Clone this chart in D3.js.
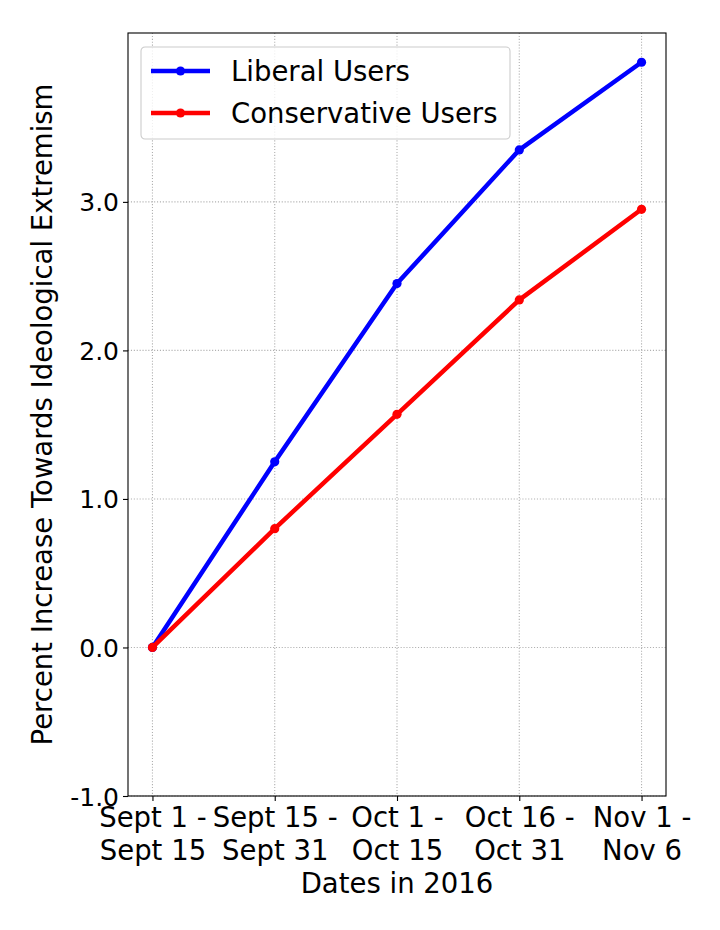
<!DOCTYPE html>
<html>
<head>
<meta charset="utf-8">
<script src="https://cdn.jsdelivr.net/npm/d3@7"></script>
<style>
  body { margin: 0; background: #fff; }
  svg text { font-family: "DejaVu Sans", sans-serif; }
</style>
</head>
<body>
<svg id="chart" width="720" height="930"></svg>
<script>
// data
const periods = [["Sept 1 -", "Sept 15"], ["Sept 15 -", "Sept 31"], ["Oct 1 -", "Oct 15"], ["Oct 16 -", "Oct 31"], ["Nov 1 -", "Nov 6"]];
const liberal = [0, 1.25, 2.45, 3.35, 3.94];
const conservative = [0, 0.80, 1.57, 2.34, 2.95];
const yTicks = [-1, 0, 1, 2, 3];
const seriesNames = ["Liberal Users", "Conservative Users"];
const seriesColors = ["#0000ff", "#ff0000"];

let margin = {top: 33, right: 54, bottom: 134, left: 128};
let svg = d3.select("#chart");
let width = +svg.attr("width") - margin.left - margin.right;
let height = +svg.attr("height") - margin.top - margin.bottom;
let g = svg.append("g").attr("transform", "translate(" + margin.left + "," + margin.top + ")");

let x = d3.scaleLinear().domain([-0.2, periods.length - 1 + 0.2]).range([0, width]);
let yMax = d3.max(liberal.concat(conservative));
let y = d3.scaleLinear().domain([-1, yMax + yMax * 0.05]).range([height, 0]);

// grid
let grid = g.append("g").attr("class", "grid");
grid.selectAll("line.gx").data(d3.range(periods.length)).enter().append("line")
    .attr("x1", d => x(d)).attr("x2", d => x(d))
    .attr("y1", 0).attr("y2", height);
grid.selectAll("line.gy").data(yTicks).enter().append("line")
    .attr("x1", 0).attr("x2", width)
    .attr("y1", d => y(d)).attr("y2", d => y(d));
grid.selectAll("line")
    .attr("stroke", "#b0b0b0")
    .attr("stroke-width", 1.1)
    .attr("stroke-dasharray", "1.1,1.8");

// series
let series = [liberal, conservative];
let line = d3.line().x((d, i) => x(i)).y(d => y(d));
series.forEach(function (vals, k) {
    let s = g.append("g").attr("class", "series");
    s.append("path")
        .datum(vals)
        .attr("d", line)
        .attr("fill", "none")
        .attr("stroke", seriesColors[k])
        .attr("stroke-width", 4.5)
        .attr("stroke-linejoin", "round");
    s.selectAll("circle").data(vals).enter().append("circle")
        .attr("cx", (d, i) => x(i))
        .attr("cy", d => y(d))
        .attr("r", 4.6)
        .attr("fill", seriesColors[k]);
});

// axes
let yAxis = g.append("g")
    .call(d3.axisLeft(y).tickValues(yTicks).tickFormat(d => d.toFixed(1)).tickSize(5).tickPadding(4));
let xAxis = g.append("g")
    .attr("transform", "translate(0," + height + ")")
    .call(d3.axisBottom(x).tickValues(d3.range(periods.length)).tickFormat("").tickSize(5));
[xAxis, yAxis].forEach(function (a) {
    a.select(".domain").remove();
    a.selectAll(".tick line").attr("stroke", "#000").attr("stroke-width", 1.1);
});
yAxis.selectAll(".tick text")
    .attr("fill", "#000")
    .style("font-size", "25px")
    .attr("dy", "0.36em");

xAxis.selectAll(".tick").each(function (d) {
    let t = d3.select(this).append("text")
        .attr("fill", "#000")
        .attr("text-anchor", "middle")
        .style("font-size", "27.5px");
    periods[d].forEach(function (ln, j) {
        t.append("tspan").attr("x", 0).attr("y", 31 + j * 33).text(ln);
    });
});

// frame
g.append("rect")
    .attr("width", width).attr("height", height)
    .attr("fill", "none").attr("stroke", "#000").attr("stroke-width", 1.1);

// axis labels
g.append("text")
    .attr("x", width / 2)
    .attr("y", height + 97)
    .attr("text-anchor", "middle")
    .style("font-size", "27.5px")
    .text("Dates in 2016");
g.append("text")
    .attr("transform", "translate(" + (-86) + "," + (height / 2) + ") rotate(-90)")
    .attr("text-anchor", "middle")
    .attr("dy", "0.36em")
    .style("font-size", "27.5px")
    .text("Percent Increase Towards Ideological Extremism");

// legend
let legend = g.append("g").attr("transform", "translate(13,14)");
legend.append("rect")
    .attr("width", 369).attr("height", 92)
    .attr("rx", 4).attr("ry", 4)
    .attr("fill", "#fff").attr("fill-opacity", 0.8)
    .attr("stroke", "#cccccc").attr("stroke-width", 1.1);
seriesNames.forEach(function (name, k) {
    let row = legend.append("g").attr("transform", "translate(0," + (24 + k * 42) + ")");
    row.append("line")
        .attr("x1", 10).attr("x2", 69)
        .attr("stroke", seriesColors[k]).attr("stroke-width", 4.5);
    row.append("circle").attr("cx", 39.5).attr("r", 4.6).attr("fill", seriesColors[k]);
    row.append("text")
        .attr("x", 90)
        .attr("dy", "0.36em")
        .style("font-size", "27.5px")
        .text(name);
});
</script>
</body>
</html>
